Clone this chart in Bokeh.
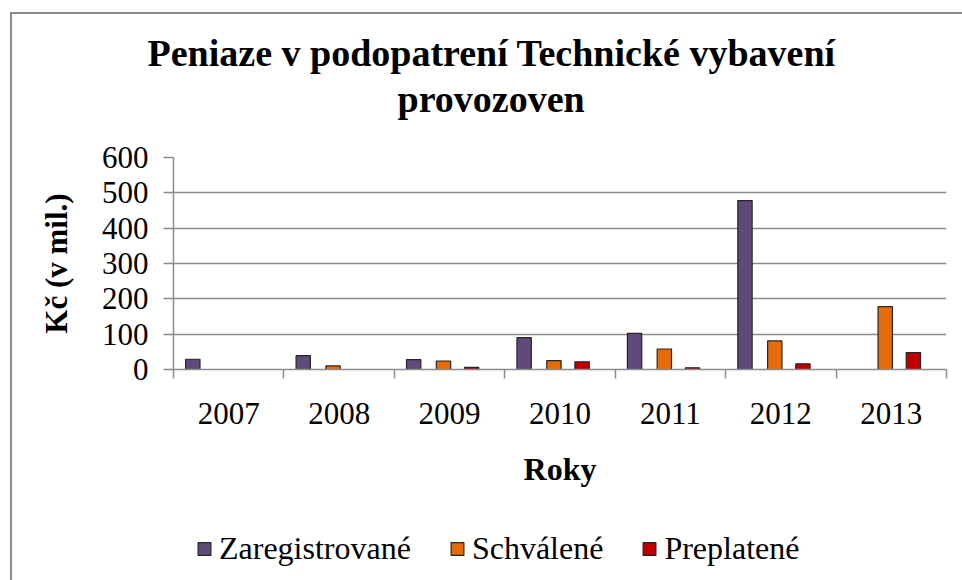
import numpy as np
from bokeh.plotting import figure
from bokeh.layouts import column
from bokeh.models import (ColumnDataSource, FixedTicker, Legend, LegendItem, Title, Range1d)
from bokeh.embed import file_html
from bokeh.resources import INLINE

# ---- data ----
years = ["2007", "2008", "2009", "2010", "2011", "2012", "2013"]
zaregistrovane = [29, 39, 28, 90, 102, 478, 0]
schvalene = [0, 10, 24, 25, 58, 81, 178]
preplatene = [0, 0, 6, 22, 5, 16, 48]
series_names = ["Zaregistrované", "Schválené", "Preplatené"]
y_ticks = [0, 100, 200, 300, 400, 500, 600]
title_lines = ["Peniaze v podopatrení Technické vybavení", "provozoven"]

colors = ["#604A7B", "#E46C0A", "#C00000"]
offsets = [-0.325, -0.055, 0.2]
FONT = "Liberation Serif"
series = [zaregistrovane, schvalene, preplatene]

# ---- main chart ----
p = figure(frame_width=773, frame_height=212, output_backend="svg", toolbar_location=None,
           x_range=Range1d(0, len(years)), y_range=Range1d(0, 600),
           min_border_left=161, min_border_right=16, min_border_top=143, min_border_bottom=140)
p.outline_line_color = None
p.background_fill_color = "white"
p.border_fill_color = "white"

idx = np.arange(len(years)) + 0.5
for vals, col, off in zip(series, colors, offsets):
    src = ColumnDataSource(dict(x=idx + off, top=vals))
    p.vbar(x="x", top="top", bottom=0, width=0.13, source=src,
           fill_color=col, line_color="#262626", line_width=1.2)

xa = p.xaxis[0]
xa.ticker = FixedTicker(ticks=list(idx), minor_ticks=list(range(len(years) + 1)))
xa.major_label_overrides = {float(v): y for v, y in zip(idx, years)}
xa.major_tick_in = 0
xa.major_tick_out = 0
xa.minor_tick_in = 0
xa.minor_tick_out = 9
xa.minor_tick_line_color = "#8c8c8c"
xa.minor_tick_line_width = 1.5
xa.axis_line_color = "#8c8c8c"
xa.axis_line_width = 1.5
xa.major_label_text_font = FONT
xa.major_label_text_font_size = "31px"
xa.major_label_text_color = "black"
xa.major_label_standoff = 24
xa.axis_label = "Roky"
xa.axis_label_text_font = FONT
xa.axis_label_text_font_size = "32px"
xa.axis_label_text_font_style = "bold"
xa.axis_label_text_color = "black"
xa.axis_label_standoff = 24

ya = p.yaxis[0]
ya.ticker = FixedTicker(ticks=y_ticks)
ya.minor_tick_line_color = None
ya.major_tick_in = 0
ya.major_tick_out = 10
ya.major_tick_line_color = "#8c8c8c"
ya.major_tick_line_width = 1.5
ya.axis_line_color = "#8c8c8c"
ya.axis_line_width = 1.5
ya.major_label_text_font = FONT
ya.major_label_text_font_size = "31px"
ya.major_label_text_color = "black"
ya.major_label_standoff = 15
ya.axis_label = "Kč (v mil.)"
ya.axis_label_text_font = FONT
ya.axis_label_text_font_size = "31px"
ya.axis_label_text_font_style = "bold"
ya.axis_label_text_color = "black"
ya.axis_label_standoff = 25

p.xgrid.grid_line_color = None
p.ygrid.ticker = FixedTicker(ticks=y_ticks)
p.ygrid.grid_line_color = "#8c8c8c"
p.ygrid.grid_line_width = 1.5

# ---- title: spacer, then line 2, then line 1 (nearest frame first) ----
p.add_layout(Title(text=" ", text_font_size="2px", standoff=34), "above")
for line, off, stand in [(title_lines[1], 224, 0), (title_lines[0], -26, 4)]:
    p.add_layout(Title(text=line, align="left", offset=off, standoff=stand,
                       text_font=FONT, text_font_size="38px", text_font_style="bold",
                       text_color="black"), "above")

# ---- legend strip (glyphs carry the same data; y range keeps bars out of view) ----
lf = figure(width=950, height=78, output_backend="svg", toolbar_location=None,
            x_axis_type=None, y_axis_type=None,
            x_range=Range1d(0, len(years)), y_range=Range1d(1000, 1001), min_border=0)
lf.outline_line_color = None
lf.border_fill_color = "white"
lf.background_fill_color = "white"
leg_rs = []
for vals, col, off in zip(series, colors, offsets):
    src = ColumnDataSource(dict(x=idx + off, top=vals))
    leg_rs.append(lf.vbar(x="x", top="top", bottom=0, width=0.13, source=src,
                          fill_color=col, line_color="#262626", line_width=1.2))
legend = Legend(items=[LegendItem(label=n, renderers=[r]) for n, r in zip(series_names, leg_rs)],
                orientation="horizontal", location="left",
                glyph_width=16, glyph_height=16, label_standoff=7, spacing=38,
                label_text_font=FONT, label_text_font_size="32px", label_text_color="black",
                padding=0, margin=23, border_line_color=None, background_fill_alpha=0)
lf.add_layout(legend, "center")

layout = column(p, lf, spacing=0,
                styles={"margin-left": "10px", "margin-top": "12px",
                        "border-left": "2px solid #8c8c8c", "border-top": "2px solid #8c8c8c"})

open("out.html", "w").write(file_html(layout, INLINE))
